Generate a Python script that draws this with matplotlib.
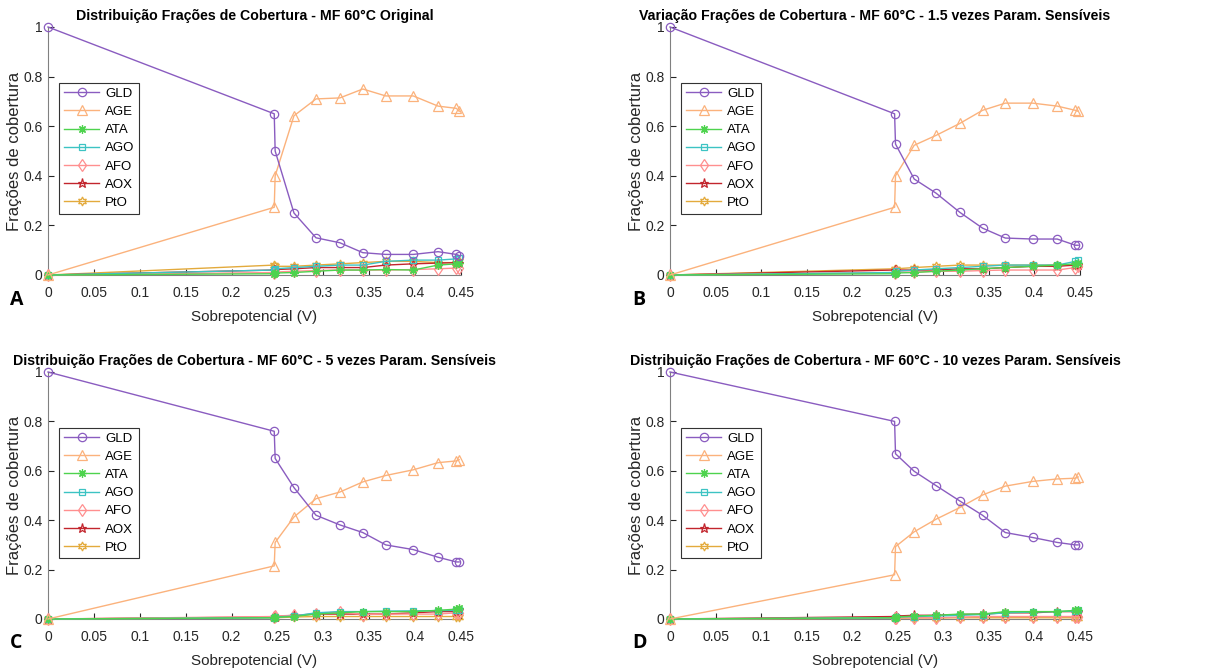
import matplotlib
matplotlib.use("Agg")
import matplotlib.pyplot as plt

plt.rcParams['font.family'] = ['Liberation Sans', 'DejaVu Sans']

# ---------------- data ----------------
x = [0, 0.2465, 0.2475, 0.268, 0.292, 0.318, 0.343, 0.368, 0.398, 0.425, 0.445, 0.448]
species = ["GLD", "AGE", "ATA", "AGO", "AFO", "AOX", "PtO"]

titles = [
    "Distribuição Frações de Cobertura - MF 60°C Original",
    "Variação Frações de Cobertura - MF 60°C - 1.5 vezes Param. Sensíveis",
    "Distribuição Frações de Cobertura - MF 60°C - 5 vezes Param. Sensíveis",
    "Distribuição Frações de Cobertura - MF 60°C - 10 vezes Param. Sensíveis",
]
panel_letters = ["A", "B", "C", "D"]

# Panel A (Original)
A_GLD = [1.0, 0.65, 0.50, 0.25, 0.15, 0.13, 0.09, 0.083, 0.083, 0.094, 0.083, 0.078]
A_AGE = [0.0, 0.273, 0.40, 0.642, 0.71, 0.714, 0.75, 0.722, 0.722, 0.681, 0.672, 0.66]
A_ATA = [0.0, 0.005, 0.008, 0.01, 0.015, 0.02, 0.02, 0.022, 0.02, 0.04, 0.045, 0.05]
A_AGO = [0.0, 0.02, 0.025, 0.03, 0.035, 0.04, 0.04, 0.055, 0.06, 0.06, 0.065, 0.07]
A_AFO = [0.0, 0.01, 0.012, 0.015, 0.018, 0.02, 0.02, 0.02, 0.022, 0.025, 0.028, 0.03]
A_AOX = [0.0, 0.02, 0.022, 0.025, 0.03, 0.03, 0.03, 0.04, 0.045, 0.048, 0.05, 0.05]
A_PtO = [0.0, 0.04, 0.035, 0.035, 0.04, 0.045, 0.05, 0.055, 0.055, 0.05, 0.05, 0.055]

# Panel B (1.5x)
B_GLD = [1.0, 0.65, 0.528, 0.387, 0.33, 0.253, 0.189, 0.149, 0.145, 0.145, 0.12, 0.12]
B_AGE = [0.0, 0.273, 0.40, 0.523, 0.563, 0.611, 0.664, 0.693, 0.693, 0.681, 0.664, 0.66]
B_ATA = [0.0, 0.005, 0.008, 0.01, 0.015, 0.02, 0.025, 0.03, 0.035, 0.04, 0.045, 0.05]
B_AGO = [0.0, 0.01, 0.015, 0.02, 0.025, 0.03, 0.035, 0.04, 0.04, 0.04, 0.055, 0.06]
B_AFO = [0.0, 0.01, 0.012, 0.012, 0.015, 0.015, 0.018, 0.02, 0.02, 0.02, 0.03, 0.035]
B_AOX = [0.0, 0.02, 0.02, 0.02, 0.02, 0.025, 0.025, 0.03, 0.035, 0.035, 0.04, 0.04]
B_PtO = [0.0, 0.025, 0.025, 0.03, 0.035, 0.04, 0.04, 0.04, 0.04, 0.04, 0.04, 0.04]

# Panel C (5x)
C_GLD = [1.0, 0.76, 0.65, 0.532, 0.42, 0.381, 0.35, 0.30, 0.281, 0.25, 0.231, 0.231]
C_AGE = [0.0, 0.215, 0.31, 0.413, 0.487, 0.514, 0.555, 0.581, 0.604, 0.633, 0.64, 0.645]
C_ATA = [0.0, 0.005, 0.007, 0.01, 0.02, 0.025, 0.03, 0.03, 0.03, 0.035, 0.04, 0.045]
C_AGO = [0.0, 0.005, 0.008, 0.012, 0.025, 0.03, 0.03, 0.032, 0.033, 0.034, 0.035, 0.035]
C_AFO = [0.0, 0.01, 0.012, 0.015, 0.02, 0.03, 0.018, 0.02, 0.02, 0.02, 0.025, 0.025]
C_AOX = [0.0, 0.008, 0.01, 0.015, 0.02, 0.02, 0.02, 0.02, 0.025, 0.03, 0.03, 0.035]
C_PtO = [0.0, 0.005, 0.005, 0.008, 0.01, 0.01, 0.01, 0.01, 0.01, 0.01, 0.01, 0.01]

# Panel D (10x)
D_GLD = [1.0, 0.80, 0.669, 0.598, 0.54, 0.478, 0.42, 0.35, 0.33, 0.31, 0.30, 0.30]
D_AGE = [0.0, 0.179, 0.293, 0.353, 0.404, 0.451, 0.502, 0.538, 0.557, 0.567, 0.57, 0.575]
D_ATA = [0.0, 0.005, 0.008, 0.012, 0.015, 0.02, 0.02, 0.03, 0.03, 0.03, 0.035, 0.035]
D_AGO = [0.0, 0.005, 0.008, 0.01, 0.012, 0.015, 0.018, 0.025, 0.028, 0.03, 0.032, 0.035]
D_AFO = [0.0, 0.005, 0.005, 0.005, 0.005, 0.008, 0.01, 0.01, 0.01, 0.01, 0.01, 0.01]
D_AOX = [0.0, 0.01, 0.012, 0.015, 0.015, 0.018, 0.02, 0.025, 0.025, 0.03, 0.03, 0.03]
D_PtO = [0.0, 0.003, 0.003, 0.004, 0.004, 0.005, 0.005, 0.005, 0.005, 0.005, 0.005, 0.005]

panels = [
    [A_GLD, A_AGE, A_ATA, A_AGO, A_AFO, A_AOX, A_PtO],
    [B_GLD, B_AGE, B_ATA, B_AGO, B_AFO, B_AOX, B_PtO],
    [C_GLD, C_AGE, C_ATA, C_AGO, C_AFO, C_AOX, C_PtO],
    [D_GLD, D_AGE, D_ATA, D_AGO, D_AFO, D_AOX, D_PtO],
]

xticks = [0, 0.05, 0.1, 0.15, 0.2, 0.25, 0.3, 0.35, 0.4, 0.45]
xtick_labels = ["0", "0.05", "0.1", "0.15", "0.2", "0.25", "0.3", "0.35", "0.4", "0.45"]
yticks = [0, 0.2, 0.4, 0.6, 0.8, 1.0]
ytick_labels = ["0", "0.2", "0.4", "0.6", "0.8", "1"]

# ---------------- style ----------------
colors = ["#8a5cc0", "#fbb27c", "#4ed34e", "#3cc3c3", "#ff8f8f", "#c2252d", "#e3aa3c"]
markers = ["o", "^", (8, 2, 0), "s", "d", "*", (6, 1, 0)]
msizes = [6, 6.5, 6, 4.5, 6.5, 6.5, 6.5]

W, H = 1211, 672
fig = plt.figure(figsize=(W / 100, H / 100), dpi=100)

# axes boxes in pixels: (left, right, top, bottom)
boxes = [(48, 461, 27, 275), (670, 1080, 27, 275), (48, 461, 372, 619), (670, 1080, 372, 619)]
letter_pos = [(10, 300), (632, 300), (10, 643), (632, 643)]

grey = "#262626"
for i, (l, r, t, b) in enumerate(boxes):
    ax = fig.add_axes([l / W, 1 - b / H, (r - l) / W, (b - t) / H])
    data = panels[i]
    for j, name in enumerate(species):
        ax.plot(x, data[j], color=colors[j], marker=markers[j], markersize=msizes[j],
                markerfacecolor="none", markeredgecolor=colors[j], markeredgewidth=0.9,
                linewidth=1.0, label=name, clip_on=False, zorder=3 + (7 - j))
    ax.set_xlim(0, 0.45)
    ax.set_ylim(0, 1)
    ax.set_xticks(xticks)
    ax.set_xticklabels(xtick_labels)
    ax.set_yticks(yticks)
    ax.set_yticklabels(ytick_labels)
    ax.tick_params(direction="in", length=4, width=0.8, colors=grey, labelsize=10, pad=8)
    ax.tick_params(axis="y", pad=4)
    for s in ["top", "right"]:
        ax.spines[s].set_visible(False)
    for s in ["left", "bottom"]:
        ax.spines[s].set_color("#808080")
        ax.spines[s].set_linewidth(0.8)
    ax.set_title(titles[i], fontsize=10.2, fontweight="bold", color="black", pad=5)
    ax.set_xlabel("Sobrepotencial (V)", fontsize=11, color=grey, labelpad=7)
    ax.set_ylabel("Frações de cobertura", fontsize=12, color=grey, labelpad=0.5)
    leg = ax.legend(loc="upper left", bbox_to_anchor=(0.027, 0.774), borderaxespad=0,
                    fontsize=9.5, frameon=True, fancybox=False, edgecolor="#333333",
                    framealpha=1, handlelength=2.7, labelspacing=0.45, borderpad=0.35,
                    handletextpad=0.45)
    leg.get_frame().set_linewidth(0.8)
    fig.text(letter_pos[i][0] / W, 1 - letter_pos[i][1] / H, panel_letters[i],
             fontsize=14, fontweight="bold", family=["Open Sans", "DejaVu Sans"],
             va="center", ha="left")

fig.savefig("out.png", dpi=100, facecolor="white")
